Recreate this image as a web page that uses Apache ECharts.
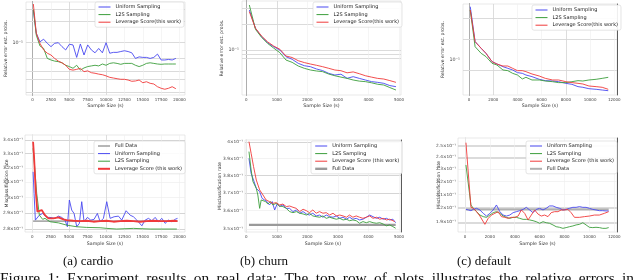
<!DOCTYPE html>
<html><head><meta charset="utf-8">
<script src="https://cdn.jsdelivr.net/npm/echarts@6/dist/echarts.min.js"></script>
<style>html,body{margin:0;padding:0;background:#fff}#c{width:640px;height:280px}</style>
</head><body><div id="c"></div>
<script>
// ===================== DATA =====================
// (a) cardio - top: relative error
const cardioTopX = [100,500,1000,1500,2000,2500,3000,3500,4000,4500,5000,5500,6000,6500,7000,7500,8000,8500,9000,9500,10000,10500,11000,11500,12000,12500,13000,13500,14000,14500,15000,15500,16000,16500,17000,17500,18000,18500,19000,19500];
const cardioTopUniform = [0.29,0.136,0.103,0.112,0.098,0.088,0.098,0.1,0.088,0.079,0.095,0.093,0.062,0.096,0.067,0.093,0.079,0.072,0.083,0.072,0.1,0.071,0.073,0.073,0.075,0.077,0.075,0.072,0.060,0.063,0.062,0.062,0.060,0.062,0.069,0.057,0.057,0.058,0.057,0.060];
const cardioTopL2S = [0.296,0.128,0.090,0.083,0.060,0.057,0.055,0.054,0.052,0.048,0.046,0.0435,0.048,0.041,0.044,0.046,0.047,0.048,0.047,0.050,0.048,0.051,0.052,0.051,0.0495,0.051,0.051,0.051,0.048,0.046,0.048,0.051,0.052,0.051,0.050,0.0495,0.050,0.050,0.050,0.050];
const cardioTopLeverage = [0.352,0.136,0.098,0.079,0.071,0.067,0.060,0.055,0.052,0.048,0.042,0.041,0.042,0.0435,0.039,0.040,0.0377,0.037,0.036,0.0353,0.034,0.0324,0.0317,0.031,0.0304,0.0304,0.0297,0.0285,0.0288,0.0297,0.0272,0.0281,0.0267,0.0261,0.0239,0.0227,0.022,0.0227,0.0239,0.0224];
// (a) cardio - bottom: misclassification rate
const cardioBotUniformX = [100,230,410,590,950,1400,1950,2400,3080,3540,3990,4440,4760,5030,5350,5670,6030,6390,6710,7030,7480,7940,8390,8840,9210,9660,10110,10570,11110,11700,12150,12740,13290,13740,14200,14880,15330,15780,16240,16690,17140,17600,18050,18500,18960,19410,19730];
const cardioBotUniform = [0.3172,0.3027,0.2855,0.2845,0.2886,0.2897,0.2872,0.2872,0.2866,0.2880,0.2872,0.2855,0.2814,0.2983,0.2918,0.2897,0.2814,0.2835,0.2972,0.2845,0.2872,0.2855,0.2860,0.2897,0.2845,0.2866,0.2972,0.2866,0.2876,0.2880,0.2855,0.2914,0.2886,0.2876,0.2855,0.2820,0.2855,0.2866,0.2851,0.2872,0.2845,0.2866,0.2835,0.2855,0.2845,0.2860,0.2866];
const cardioBotL2SX = [100,270,590,950,1400,1720,2400,3540,4670,6030,7390,9210,10110,11470,13740,16010,19640];
const cardioBotL2S = [0.3339,0.3231,0.3027,0.2886,0.2860,0.2866,0.2845,0.2838,0.2824,0.2814,0.2810,0.2808,0.2804,0.2800,0.2804,0.2800,0.2800];
const cardioBotLeverageX = [100,230,450,680,950,1270,1720,2180,2860,3540,4220,4670,5580,6490,7390,8300,9210,10110,11020,11930,12830,13740,14650,15560,16460,17370,18280,19180,19730];
const cardioBotLeverage = [0.3387,0.3279,0.3049,0.2908,0.2918,0.2918,0.2886,0.2866,0.2866,0.2872,0.2860,0.2855,0.2851,0.2849,0.2851,0.2845,0.2849,0.2851,0.2845,0.2849,0.2851,0.2849,0.2845,0.2849,0.2851,0.2849,0.2849,0.2851,0.2849];
const cardioFullData = 0.2849;

// (b) churn - top
const churnTopX = [100,300,500,700,900,1100,1300,1500,1700,1900,2100,2300,2500,2700,2900,3100,3300,3500,3700,3900,4100,4300,4500,4700,4900];
const churnTopUniform = [0.288,0.178,0.142,0.121,0.109,0.1,0.0838,0.0782,0.0703,0.066,0.0643,0.0605,0.058,0.0539,0.0516,0.0527,0.0473,0.0494,0.0472,0.0452,0.0433,0.0425,0.0414,0.039,0.0379];
const churnTopL2S = [0.329,0.173,0.140,0.119,0.105,0.0932,0.0767,0.0722,0.0655,0.0616,0.0589,0.0574,0.0564,0.0529,0.0506,0.0488,0.0472,0.0452,0.0439,0.0433,0.042,0.0404,0.0396,0.037,0.0347];
const churnTopLeverage = [0.276,0.178,0.145,0.124,0.111,0.102,0.0853,0.082,0.0754,0.0717,0.069,0.0667,0.0643,0.0616,0.0589,0.0578,0.0547,0.056,0.0534,0.0506,0.0488,0.0472,0.0464,0.0445,0.0425];
// (b) churn - bottom
const churnBotUniformX = [90,160,240,330,440,520,600,680,760,850,930,1020,1090,1200,1310,1420,1530,1640,1750,1860,1970,2070,2180,2290,2400,2510,2620,2730,2840,2950,3060,3170,3280,3380,3490,3600,3710,3820,3930,4040,4150,4260,4370,4480,4590,4690,4800,4890];
const churnBotUniform = [0.3902,0.3813,0.3774,0.3726,0.3707,0.3669,0.3660,0.3651,0.3632,0.3651,0.3604,0.3641,0.3623,0.3632,0.3613,0.3613,0.3595,0.3604,0.3586,0.3595,0.3582,0.3576,0.3586,0.3571,0.3576,0.3564,0.3576,0.3567,0.3564,0.3571,0.3558,0.3564,0.3553,0.3564,0.3553,0.3558,0.3549,0.3553,0.3564,0.3576,0.3567,0.3558,0.3564,0.3553,0.3558,0.3549,0.3553,0.3534];
const churnBotL2SX = [90,160,220,270,330,380,440,490,550,630,710,790,870,980,1090,1200,1310,1420,1530,1640,1750,1860,1970,2070,2180,2290,2400,2510,2620,2730,2840,2950,3060,3170,3280,3380,3490,3600,3710,3820,3930,4040,4150,4260,4370,4480,4590,4690,4800,4890];
const churnBotL2S = [0.3943,0.3833,0.3765,0.3774,0.3726,0.3688,0.3613,0.3660,0.3669,0.3651,0.3637,0.3651,0.3632,0.3641,0.3626,0.3623,0.3613,0.3595,0.3589,0.3595,0.3586,0.3582,0.3576,0.3586,0.3571,0.3567,0.3564,0.3571,0.3558,0.3564,0.3558,0.3553,0.3558,0.3549,0.3553,0.3545,0.3549,0.3545,0.3531,0.3540,0.3534,0.3540,0.3534,0.3531,0.3534,0.3527,0.3517,0.3522,0.3513,0.3504];
const churnBotLeverageX = [90,160,240,330,440,550,650,760,870,980,1090,1200,1310,1420,1530,1640,1750,1860,1970,2070,2180,2290,2400,2510,2620,2730,2840,2950,3060,3170,3280,3380,3490,3600,3710,3820,3930,4040,4150,4260,4370,4480,4590,4690,4800,4860];
const churnBotLeverage = [0.4004,0.3933,0.3853,0.3774,0.3717,0.3688,0.3660,0.3651,0.3641,0.3645,0.3632,0.3637,0.3623,0.3626,0.3619,0.3613,0.3595,0.3608,0.3600,0.3589,0.3604,0.3586,0.3595,0.3586,0.3589,0.3576,0.3586,0.3571,0.3576,0.3571,0.3564,0.3576,0.3564,0.3571,0.3564,0.3558,0.3564,0.3571,0.3558,0.3564,0.3553,0.3558,0.3549,0.3553,0.3545,0.3540];
const churnFullData = 0.3522;

// (c) default - top
const defaultTopX = [100,500,1000,1400,1900,2300,2800,3200,3600,4000,4400,4700,5200,5800,6300,6900,7400,8000,8500,9000,9400,9900,10500,11000,11500];
const defaultTopUniform = [0.596,0.185,0.148,0.125,0.0946,0.0875,0.08,0.0757,0.0716,0.0655,0.064,0.0605,0.0573,0.0524,0.0501,0.0495,0.0484,0.0458,0.0443,0.041,0.0401,0.0383,0.0375,0.0366,0.0358];
const defaultTopL2S = [0.533,0.156,0.125,0.112,0.0895,0.0846,0.0716,0.070,0.064,0.0605,0.053,0.056,0.0512,0.0512,0.0495,0.0484,0.0469,0.0469,0.0484,0.0501,0.0495,0.0512,0.0524,0.0541,0.056];
const defaultTopLeverage = [0.533,0.185,0.148,0.125,0.0946,0.0875,0.0818,0.0818,0.0757,0.070,0.070,0.0677,0.0626,0.0585,0.0541,0.0512,0.0512,0.0484,0.0469,0.0458,0.0448,0.0419,0.041,0.0401,0.0375];
// (c) default - bottom
const defaultBotUniformX = [80,270,480,670,930,1200,1470,1730,2000,2270,2530,2800,3070,3330,3600,3870,4130,4400,4670,4930,5200,5470,5730,6000,6270,6530,6800,7070,7330,7600,7870,8130,8400,8670,8930,9200,9470,9730,10000,10270,10530,10800,11070,11330,11550];
const defaultBotUniform = [0.1990,0.1986,0.1981,0.1990,0.1998,0.1986,0.1962,0.1943,0.1962,0.1986,0.2022,0.1974,0.1950,0.1943,0.1950,0.1967,0.1974,0.1981,0.1990,0.2005,0.1986,0.1967,0.1990,0.1998,0.1986,0.1998,0.2015,0.2015,0.2005,0.1998,0.1986,0.1990,0.1998,0.2005,0.2005,0.2010,0.2005,0.2005,0.1998,0.1990,0.1986,0.1981,0.1981,0.1979,0.1979];
const defaultBotL2SX = [80,480,670,930,1200,1470,1730,2000,2270,2530,2800,3070,3330,3600,3870,4130,4400,4670,4930,5200,5470,5730,6000,6270,6530,6800,7070,7330,7600,7870,8130,8400,8670,8930,9200,9470,9730,10000,10270,10530,10800,11070,11330,11550];
const defaultBotL2S = [0.2335,0.2022,0.1998,0.1974,0.1950,0.1939,0.1934,0.1950,0.1967,0.1974,0.1962,0.1943,0.1934,0.1927,0.1934,0.1934,0.1927,0.1920,0.1920,0.1916,0.1911,0.1904,0.1893,0.1904,0.1897,0.1893,0.1882,0.1870,0.1866,0.1859,0.1864,0.1870,0.1875,0.1882,0.1886,0.1897,0.1882,0.1866,0.1864,0.1866,0.1864,0.1859,0.1859,0.1864];
const defaultBotLeverageX = [80,480,670,930,1200,1600,1870,2130,2400,2670,2930,3200,3470,3730,4000,4270,4530,4800,5070,5330,5600,5870,6130,6400,6670,6930,7200,7470,7730,8000,8270,8530,8800,9200,9600,10000,10400,10800,11200,11550];
const defaultBotLeverage = [0.2530,0.2005,0.1998,0.1974,0.1943,0.1886,0.1927,0.1950,0.1962,0.1974,0.1939,0.1934,0.1927,0.1934,0.1934,0.1943,0.1986,0.1962,0.1916,0.1950,0.1986,0.1957,0.1943,0.1950,0.1939,0.1967,0.1974,0.1974,0.1986,0.1986,0.1990,0.1967,0.1934,0.1934,0.1939,0.1943,0.1950,0.1950,0.1962,0.1974];
const defaultFullData = 0.1990;

// ticks & labels
const cardioXTicks = [0,2500,5000,7500,10000,12500,15000,17500,20000];
const churnXTicks = [0,1000,2000,3000,4000,5000];
const defaultXTicks = [0,2000,4000,6000,8000,10000,12000];
const topMajorTicks = [0.1];
const topMajorLabels = ['10⁻¹'];
const cardioTopGridVals = [0.3,0.2,0.1,0.06,0.04,0.03,0.02];
const churnTopGridVals = [0.3,0.2,0.1,0.09,0.08];
const defaultTopGridVals = [0.4,0.2,0.07];
const cardioBotTicks = [0.34,0.33,0.32,0.31,0.30,0.29,0.28];
const cardioBotLabels = ['3.4×10⁻¹','3.3×10⁻¹','3.2×10⁻¹','3.1×10⁻¹','3×10⁻¹','2.9×10⁻¹','2.8×10⁻¹'];
const churnBotTicks = [0.40,0.39,0.38,0.37,0.36,0.35];
const churnBotLabels = ['4×10⁻¹','3.9×10⁻¹','3.8×10⁻¹','3.7×10⁻¹','3.6×10⁻¹','3.5×10⁻¹'];
const defaultBotTicks = [0.25,0.24,0.23,0.22,0.21,0.20,0.19];
const defaultBotLabels = ['2.5×10⁻¹','2.4×10⁻¹','2.3×10⁻¹','2.2×10⁻¹','2.1×10⁻¹','2×10⁻¹','1.9×10⁻¹'];

const xName = 'Sample Size (s)';
const topYName = 'Relative error est. probs.';
const botYName = 'Misclassification rate';
const captions = ['(a) cardio','(b) churn','(c) default'];
const figureLine = 'Figure 1:  Experiment results on real data:  The top row of plots illustrates the relative errors in';

// ===================== LAYOUT / STYLE =====================
const FONT = 'DejaVu Sans';
const BLUE = '#4848f0', GREEN = '#3c9e3c', RED = '#f03a3a';
const grids = [
  {left:26, top:2, width:159, height:93},
  {left:242, top:1, width:159, height:94},
  {left:463, top:4, width:154, height:91},
  {left:25, top:135, width:160, height:97},
  {left:245, top:140, width:156, height:92},
  {left:458, top:138, width:159, height:94}
];
// min is a multiple of the (fine) step; labels filtered to the tick lists
const xr = [[-900,20747,100],[-140,5065,20],[-500,12223,100],[-1000,20747,100],[-40,5065,20],[-560,12217,20]];
const yr = [[0.01825,0.3757],[0.0304,0.3659],[0.03099,0.6516],[0.2782,0.34373],[0.34838,0.40142],[0.18347,0.2573]];
const xTicksByGrid = [cardioXTicks,churnXTicks,defaultXTicks,cardioXTicks,churnXTicks,defaultXTicks];
const yNameGap = [16.5,15,13,16,23,17];

const pairs = (xs, ys) => xs.map((x,i)=>[x, ys[i]]);
function ln(name, g, xs, ys, color, width) {
  return {name, type:'line', xAxisIndex:g, yAxisIndex:g, data:pairs(xs,ys), showSymbol:false, symbol:'none',
    lineStyle:{color, width}, itemStyle:{color}, z:3, animation:false, silent:true};
}
function full(g, xs, v, color, width) {
  return ln('Full Data', g, [xs[0], xs[xs.length-1]], [v, v], color, width);
}
function guides(g, hVals, hLabels, hStrong, vVals, vStrong, strongStyle) {
  const data = [];
  hVals.forEach((v,i)=>{
    const s = hStrong.includes(i);
    data.push({yAxis:v, lineStyle: s ? strongStyle : {color:'#ebebeb', width:0.6, type:'solid'},
      label: hLabels ? {show:true, position:'start', formatter:hLabels[i], fontSize:4.3, color:'#444', fontFamily:FONT, distance:2} : {show:false}});
  });
  vVals.forEach((v)=>{
    const s = vStrong.includes(v);
    data.push({xAxis:v, lineStyle: s ? {color:'#d4d4d4', width:0.8, type:'solid'} : {color:'#efefef', width:0.6, type:'solid'}, label:{show:false}});
  });
  return {type:'line', xAxisIndex:g, yAxisIndex:g, data:[], z:1, silent:true, animation:false,
    markLine:{z:1, zlevel:0, symbol:['none','none'], silent:true, animation:false, label:{show:false}, data}};
}

const xAxes = grids.map((_,g)=>({
  gridIndex:g, type:'value', min:xr[g][0], max:xr[g][1], interval:xr[g][2],
  name:xName, nameLocation:'middle', nameGap:g<3?8.5:9,
  nameTextStyle:{fontSize:4.7, fontFamily:FONT, color:'#333'},
  axisLine:{show:false}, axisTick:{show:false}, splitLine:{show:false},
  axisLabel:{fontSize:4, fontFamily:FONT, color:'#444', margin:2.5, showMinLabel:false, showMaxLabel:false, hideOverlap:false,
    formatter:(v)=>{ const r = Math.round(v); return (Math.abs(r-v)<1e-6 && xTicksByGrid[g].includes(r)) ? String(r) : ''; }}
}));
const yAxes = grids.map((_,g)=>({
  gridIndex:g, type:'log', logBase:10, min:yr[g][0], max:yr[g][1],
  name: g<3 ? topYName : botYName, nameLocation:'middle', nameGap:yNameGap[g],
  nameTextStyle:{fontSize:4.6, fontFamily:FONT, color:'#333'},
  axisLine:{show:true, lineStyle:{color: g<3 ? '#222' : '#d0d0d0', width:0.8}},
  axisTick:{show:false}, splitLine:{show:false}, minorSplitLine:{show:false},
  axisLabel: g<3 ? {show:true, fontSize:4.8, fontFamily:FONT, color:'#444', margin:3,
    formatter:(v)=>{ const i = topMajorTicks.findIndex(t=>Math.abs(t-v)/t<1e-6); return i>=0 ? topMajorLabels[i] : ''; }} : {show:false}
}));
// right-hand dark spines
[2,4,5].forEach(g=>yAxes.push({gridIndex:g, type:'value', position:'right', axisLine:{show:true, onZero:false, lineStyle:{color:'#333', width:0.8}}, axisLabel:{show:false}, axisTick:{show:false}, splitLine:{show:false}}));

const strongTop = {color:'#d2d2d2', width:0.8, type:'solid'};
const series = [
  guides(0, cardioTopGridVals, null, [0,1,2,3,4,5,6], cardioXTicks, [5000,10000], strongTop),
  guides(1, churnTopGridVals, null, [0,1,2,3,4], churnXTicks, [1000], strongTop),
  guides(2, defaultTopGridVals, null, [0,1,2], defaultXTicks, [2000,8000], strongTop),
  guides(3, cardioBotTicks, cardioBotLabels, [0,1,5,6], cardioXTicks, [5000,10000], {color:'#d0d0d0', width:0.9, type:'solid'}),
  guides(4, churnBotTicks, churnBotLabels, [0,2,3], churnXTicks, [1000], {color:'#d0d0d0', width:0.9, type:'solid'}),
  guides(5, defaultBotTicks, defaultBotLabels, [0,1,5,6], defaultXTicks, [], {color:'#cfcfcf', width:1.6, type:'solid'}),

  ln('Uniform Sampling',0,cardioTopX,cardioTopUniform,BLUE,0.9),
  ln('L2S Sampling',0,cardioTopX,cardioTopL2S,GREEN,0.9),
  ln('Leverage Score(this work)',0,cardioTopX,cardioTopLeverage,RED,0.9),

  ln('Uniform Sampling',1,churnTopX,churnTopUniform,BLUE,0.9),
  ln('L2S Sampling',1,churnTopX,churnTopL2S,GREEN,0.9),
  ln('Leverage Score(this work)',1,churnTopX,churnTopLeverage,RED,0.9),

  ln('Uniform Sampling',2,defaultTopX,defaultTopUniform,BLUE,0.9),
  ln('L2S Sampling',2,defaultTopX,defaultTopL2S,GREEN,0.9),
  ln('Leverage Score(this work)',2,defaultTopX,defaultTopLeverage,RED,0.9),

  full(3,cardioBotUniformX,cardioFullData,'#6e6e6e',1),
  ln('Uniform Sampling',3,cardioBotUniformX,cardioBotUniform,BLUE,0.9),
  ln('L2S Sampling',3,cardioBotL2SX,cardioBotL2S,GREEN,0.9),
  ln('Leverage Score (this work)',3,cardioBotLeverageX,cardioBotLeverage,RED,1.8),

  full(4,churnBotUniformX,churnFullData,'#9a9a9a',2.4),
  ln('Uniform Sampling',4,churnBotUniformX,churnBotUniform,BLUE,0.9),
  ln('L2S Sampling',4,churnBotL2SX,churnBotL2S,GREEN,0.9),
  ln('Leverage Score (this work)',4,churnBotLeverageX,churnBotLeverage,RED,0.9),

  full(5,defaultBotUniformX,defaultFullData,'#b0b0b0',2),
  ln('Uniform Sampling',5,defaultBotUniformX,defaultBotUniform,BLUE,0.9),
  ln('L2S Sampling',5,defaultBotL2SX,defaultBotL2S,GREEN,0.9),
  ln('Leverage Score (this work)',5,defaultBotLeverageX,defaultBotLeverage,RED,0.9)
];

const hideSym = {opacity:0, color:'rgba(0,0,0,0)', borderColor:'rgba(0,0,0,0)', borderWidth:0};
function legend(left, top, items) {
  return {left, top, z:10, orient:'vertical', selectedMode:false, itemWidth:12, itemHeight:5, itemGap:1.6,
    padding:[2,3,2,3], borderColor:'#d4d4d4', borderWidth:0.6, borderRadius:2, backgroundColor:'rgba(255,255,255,0.9)',
    itemStyle:hideSym,
    textStyle:{fontSize:5, fontFamily:FONT, color:'#222', lineHeight:6},
    data:items.map(it=>Object.assign({itemStyle:hideSym}, it))};
}
const topItems = [
  {name:'Uniform Sampling', lineStyle:{width:1}}, {name:'L2S Sampling', lineStyle:{width:1}}, {name:'Leverage Score(this work)', lineStyle:{width:1}}
];
const legends = [
  legend(95,2,topItems),
  legend(313,2,topItems),
  legend(532,5,topItems),
  legend(94,141,[{name:'Full Data', lineStyle:{width:1,color:'#6e6e6e'}},{name:'Uniform Sampling', lineStyle:{width:1}},{name:'L2S Sampling', lineStyle:{width:1}},{name:'Leverage Score (this work)', lineStyle:{width:2}}]),
  legend(311,141,[{name:'Uniform Sampling', lineStyle:{width:1}},{name:'L2S Sampling', lineStyle:{width:1}},{name:'Leverage Score (this work)', lineStyle:{width:1}},{name:'Full Data', lineStyle:{width:2.4,color:'#9a9a9a'}}]),
  legend(526,141,[{name:'Uniform Sampling', lineStyle:{width:1}},{name:'L2S Sampling', lineStyle:{width:1}},{name:'Leverage Score (this work)', lineStyle:{width:1}},{name:'Full Data', lineStyle:{width:2,color:'#b0b0b0'}}])
];

// captions (figure line justified across the page width, like LaTeX)
const SERIF = '"Liberation Serif", "DejaVu Serif", serif';
const capFont = '13px ' + SERIF, figFont = '14px ' + SERIF;
const FIG_SX = 1.1;
const graphic = [
  {type:'text', x:63, y:255.5, style:{text:captions[0], font:capFont, fill:'#111', verticalAlign:'top'}},
  {type:'text', x:240, y:255.5, style:{text:captions[1], font:capFont, fill:'#111', verticalAlign:'top'}},
  {type:'text', x:457, y:255.5, style:{text:captions[2], font:capFont, fill:'#111', verticalAlign:'top'}}
];
(function(){
  const ctx = document.createElement('canvas').getContext('2d');
  ctx.font = figFont;
  const words = figureLine.split(/\s+/);
  const ws = words.map(w=>ctx.measureText(w).width * FIG_SX);
  const total = ws.reduce((a,b)=>a+b,0);
  const gap = (634 - total) / (words.length - 1);
  let x = 0;
  words.forEach((w,i)=>{
    graphic.push({type:'text', x:x, y:272, scaleX:FIG_SX, style:{text:w, font:figFont, fill:'#111', verticalAlign:'top'}});
    x += ws[i] + gap;
  });
})();

const chart = echarts.init(document.getElementById('c'), null, {renderer:'canvas'});
chart.setOption({
  animation:false,
  backgroundColor:'#fff',
  grid: grids.map(g=>Object.assign({show:true, borderColor:'#dadada', borderWidth:0.6, backgroundColor:'transparent', containLabel:false}, g)),
  xAxis: xAxes, yAxis: yAxes, series, legend: legends, graphic
});
</script></body></html>
